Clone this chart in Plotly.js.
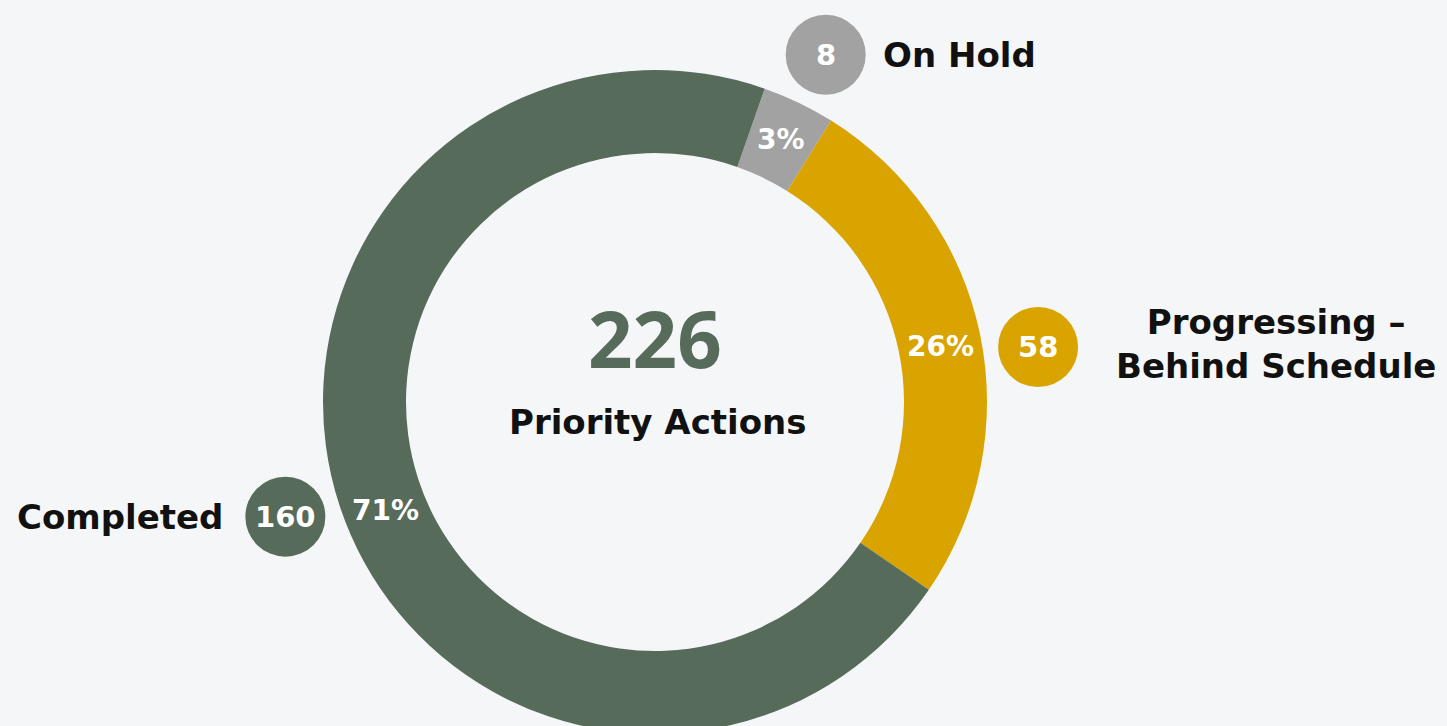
<!DOCTYPE html>
<html>
<head>
<meta charset="utf-8">
<script src="https://cdn.plot.ly/plotly-3.0.1.min.js"></script>
<style>
html,body{margin:0;padding:0;overflow:hidden;background:#f4f6f8;}
#chart{width:1447px;height:760px;}
</style>
</head>
<body>
<div id="chart"></div>
<script>
// ---- data ----
const categories = ['On Hold', 'Progressing –<br>Behind Schedule', 'Completed'];
const values = [8, 58, 160];
const percentLabels = ['3%', '26%', '71%'];
const countLabels = ['8', '58', '160'];
const totalLabel = '226';
const centerCaption = 'Priority Actions';

// ---- style / layout ----
const colors = ['#a2a2a2', '#d9a300', '#566b5a'];
const W = 1447, H = 760;
const cx = 655, cy = 402, R = 332, hole = 0.75;
const rotation = 19.3;
const pctRadius = 291;
const pctAngleNudge = [0, 0.8, -3.8];
const bubbleRadius = 387;
const bubbleAngleNudge = [0.5, 3.6, 0.9];
const bubbleSize = 80;
const FONT = 'DejaVu Sans';
const BIGFONT = 'Open Sans';

const total = values.reduce((a, b) => a + b, 0);
const mids = [];
let cum = 0;
values.forEach(v => { mids.push(rotation + (cum + v / 2) / total * 360); cum += v; });
const polar = (r, deg) => [cx + r * Math.sin(deg * Math.PI / 180), cy - r * Math.cos(deg * Math.PI / 180)];

const pctPos = mids.map((a, i) => polar(pctRadius, a + pctAngleNudge[i]));
const bubPos = mids.map((a, i) => polar(bubbleRadius, a + bubbleAngleNudge[i]));

const pie = {
  type: 'pie',
  values: values,
  labels: categories,
  sort: false,
  direction: 'clockwise',
  rotation: rotation,
  hole: hole,
  marker: {colors: colors, line: {width: 0}},
  textinfo: 'none',
  hoverinfo: 'skip',
  showlegend: false,
  domain: {x: [(cx - R) / W, (cx + R) / W], y: [1 - (cy + R) / H, 1 - (cy - R) / H]}
};

const bubbles = {
  type: 'scatter',
  mode: 'markers',
  x: bubPos.map(p => p[0]),
  y: bubPos.map(p => p[1]),
  marker: {size: bubbleSize, color: colors, line: {width: 0}},
  hoverinfo: 'skip',
  showlegend: false,
  cliponaxis: false
};

const annotations = [];
bubPos.forEach((p, i) => annotations.push({
  x: p[0], y: p[1], xref: 'x', yref: 'y', text: countLabels[i], showarrow: false,
  font: {family: FONT, size: 29, color: '#ffffff', weight: 700}
}));
pctPos.forEach((p, i) => annotations.push({
  x: p[0], y: p[1], xref: 'x', yref: 'y', text: percentLabels[i], showarrow: false,
  font: {family: FONT, size: 28, color: '#ffffff', weight: 700}
}));
// category labels beside bubbles
const labelSpec = [
  {dx: 55, dy: 0, xanchor: 'left', align: 'left'},
  {dx: 238, dy: -3, xanchor: 'center', align: 'center'},
  {dx: -60, dy: 0, xanchor: 'right', align: 'right'}
];
bubPos.forEach((p, i) => annotations.push({
  x: p[0] + labelSpec[i].dx, y: p[1] + labelSpec[i].dy, xref: 'x', yref: 'y', text: categories[i],
  xanchor: labelSpec[i].xanchor, align: labelSpec[i].align, showarrow: false,
  font: {family: FONT, size: 34, color: '#111111', weight: 700}
}));
annotations.push({x: cx, y: 338, xref: 'x', yref: 'y', text: totalLabel, showarrow: false,
  font: {family: BIGFONT, size: 78, color: '#566b5a', weight: 700}});
annotations.push({x: cx + 3, y: 422, xref: 'x', yref: 'y', text: centerCaption, showarrow: false,
  font: {family: FONT, size: 34, color: '#111111', weight: 700}});

const layout = {
  width: W, height: H,
  margin: {l: 0, r: 0, t: 0, b: 0},
  paper_bgcolor: '#f4f6f8',
  plot_bgcolor: 'rgba(0,0,0,0)',
  xaxis: {range: [0, W], visible: false, fixedrange: true},
  yaxis: {range: [H, 0], visible: false, fixedrange: true},
  annotations: annotations,
  showlegend: false
};

Plotly.newPlot('chart', [bubbles, pie], layout, {staticPlot: true, displayModeBar: false});
</script>
</body>
</html>
